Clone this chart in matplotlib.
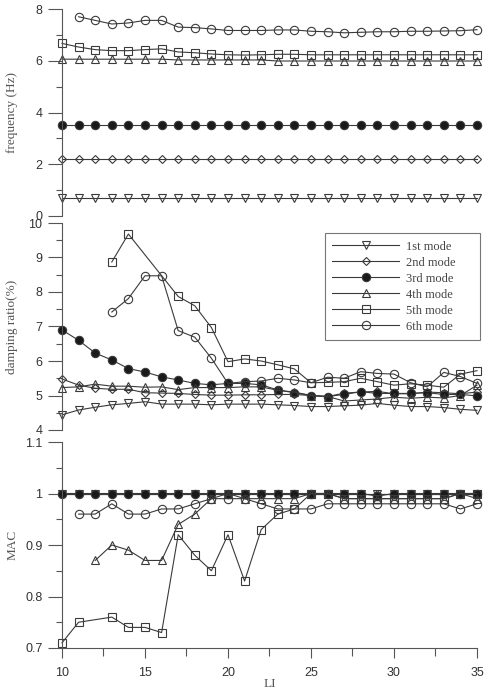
import numpy as np
import matplotlib
matplotlib.use("Agg")
import matplotlib.pyplot as plt
from matplotlib.ticker import MultipleLocator

nan = np.nan
LI = list(range(10, 36))

# ---- frequency (Hz) ----
freq_1 = [0.71] * 26
freq_2 = [2.19] * 26
freq_3 = [3.50] * 26
freq_4 = [6.06, 6.06, 6.06, 6.06, 6.06, 6.06, 6.06, 6.03, 6.03, 6.03, 6.03, 6.03, 6.03,
          5.99, 5.99, 5.99, 5.99, 5.99, 5.99, 5.99, 5.99, 5.99, 5.99, 5.99, 5.99, 5.99]
freq_5 = [6.67, 6.53, 6.43, 6.39, 6.39, 6.43, 6.46, 6.34, 6.31, 6.26, 6.23, 6.22, 6.23,
          6.25, 6.25, 6.23, 6.23, 6.23, 6.23, 6.23, 6.23, 6.23, 6.23, 6.23, 6.23, 6.23]
freq_6 = [nan, 7.70, 7.56, 7.42, 7.46, 7.56, 7.56, 7.30, 7.28, 7.23, 7.17, 7.17, 7.17,
          7.19, 7.19, 7.14, 7.12, 7.08, 7.10, 7.12, 7.12, 7.14, 7.14, 7.15, 7.16, 7.20]

# ---- damping ratio (%) ----
damp_1 = [4.44, 4.58, 4.66, 4.73, 4.77, 4.82, 4.75, 4.75, 4.75, 4.73, 4.75, 4.75, 4.75,
          4.73, 4.71, 4.68, 4.68, 4.70, 4.72, 4.77, 4.72, 4.68, 4.68, 4.65, 4.60, 4.57]
damp_2 = [5.48, 5.30, 5.21, 5.18, 5.18, 5.08, 5.07, 5.06, 5.03, 5.01, 5.01, 5.02, 5.02,
          5.03, 5.03, 5.00, 4.97, 5.07, 5.10, 5.12, 5.05, 5.05, 5.10, 5.08, 5.05, 5.10]
damp_3 = [6.90, 6.60, 6.23, 6.03, 5.78, 5.68, 5.54, 5.45, 5.35, 5.31, 5.35, 5.35, 5.31,
          5.16, 5.08, 5.00, 4.97, 5.03, 5.11, 5.06, 5.06, 5.06, 5.08, 5.03, 5.03, 4.99]
damp_4 = [5.23, 5.25, 5.33, 5.27, 5.27, 5.24, 5.25, 5.17, 5.23, 5.23, 5.23, 5.25, 5.25,
          5.15, 5.10, 5.00, 4.97, 4.84, 4.87, 4.90, 4.95, 4.92, 4.95, 4.93, 5.00, 5.30]
damp_5 = [nan, nan, nan, 8.87, 9.68, nan, nan, 7.87, 7.60, 6.97, 5.98, 6.06, 6.00,
          5.89, 5.77, 5.37, 5.38, 5.40, 5.50, 5.40, 5.30, 5.34, 5.30, 5.24, 5.62, 5.72]
damp_6 = [nan, nan, nan, 7.42, 7.81, 8.47, 8.47, 6.88, 6.69, 6.08, 5.35, 5.40, 5.42,
          5.50, 5.45, 5.37, 5.53, 5.50, 5.69, 5.64, 5.62, 5.37, 5.25, 5.67, 5.55, 5.35]

# ---- MAC ----
mac_1 = [1.00] * 26
mac_2 = [1.00] * 26
mac_3 = [1.00, 1.00, 1.00, 1.00, 1.00, 1.00, 1.00, 1.00, 1.00, 1.00, 1.00, 1.00, 1.00,
         1.00, 1.00, 1.00, 1.00, 1.00, 1.00, 0.995, 1.00, 1.00, 1.00, 1.00, 1.00, 1.00]
mac_4 = [nan, nan, 0.87, 0.90, 0.89, 0.87, 0.87, 0.94, 0.96, 0.99, 1.00, 0.99, 0.99,
         0.99, 0.99, 1.00, 1.00, 0.99, 0.99, 0.99, 0.99, 0.99, 0.99, 0.99, 1.00, 0.99]
mac_5 = [0.71, 0.75, nan, 0.76, 0.74, 0.74, 0.73, 0.92, 0.88, 0.85, 0.92, 0.83, 0.93,
         0.96, 0.97, 1.00, 1.00, 0.99, 0.99, 0.99, 0.99, 0.99, 0.99, 0.99, 1.00, 1.00]
mac_6 = [nan, 0.96, 0.96, 0.98, 0.96, 0.96, 0.97, 0.97, 0.98, 0.99, 0.99, 0.99, 0.98,
         0.97, 0.97, 0.97, 0.98, 0.98, 0.98, 0.98, 0.98, 0.98, 0.98, 0.98, 0.97, 0.98]

mode_labels = ["1st mode", "2nd mode", "3rd mode", "4th mode", "5th mode", "6th mode"]

styles = [
    dict(marker="v", ms=5.5, mfc="none"),
    dict(marker="D", ms=3.8, mfc="none"),
    dict(marker="o", ms=6.0, mfc="#1a1a1a"),
    dict(marker="^", ms=5.5, mfc="none"),
    dict(marker="s", ms=5.5, mfc="none"),
    dict(marker="o", ms=6.0, mfc="none"),
]

LC = "#3a3a3a"
SANS = ["Liberation Sans", "DejaVu Sans"]
SERIF = ["Liberation Serif", "DejaVu Serif"]

plt.rcParams["font.family"] = SANS

W, H = 485, 691
fig = plt.figure(figsize=(W / 100, H / 100), dpi=100)

def ax_at(top_px, bot_px):
    left, right = 62, 477
    return fig.add_axes([left / W, 1 - bot_px / H, (right - left) / W, (bot_px - top_px) / H])

ax1 = ax_at(9, 216)
ax2 = ax_at(223, 430)
ax3 = ax_at(442, 648)

def plot_series(ax, series):
    handles = []
    for vals, st, lab in zip(series, styles, mode_labels):
        xs = np.array(LI, dtype=float)
        ys = np.array(vals, dtype=float)
        m = ~np.isnan(ys)
        h, = ax.plot(xs[m], ys[m], color=LC, lw=0.8, mec=LC, mew=0.8,
                     clip_on=False, label=lab, **st)
        handles.append(h)
    return handles

plot_series(ax1, [freq_1, freq_2, freq_3, freq_4, freq_5, freq_6])
hs = plot_series(ax2, [damp_1, damp_2, damp_3, damp_4, damp_5, damp_6])
plot_series(ax3, [mac_1, mac_2, mac_3, mac_4, mac_5, mac_6])

for ax in (ax1, ax2, ax3):
    ax.set_xlim(10, 35)
    ax.spines["top"].set_visible(False)
    ax.spines["right"].set_visible(False)
    ax.spines["left"].set_color("#555555")
    ax.spines["left"].set_linewidth(0.8)
    ax.tick_params(axis="y", which="major", direction="out", length=10, width=0.8,
                   color="#555555", labelsize=9, labelcolor="#333333", pad=4)
    ax.tick_params(axis="y", which="minor", direction="out", length=4, width=0.8,
                   color="#555555")
    ax.patch.set_visible(False)

for ax in (ax1, ax2):
    ax.spines["bottom"].set_visible(False)
    ax.tick_params(axis="x", which="both", bottom=False, labelbottom=False)

ax1.set_ylim(0, 8)
ax1.yaxis.set_major_locator(MultipleLocator(2))
ax1.yaxis.set_minor_locator(MultipleLocator(1))

ax2.set_ylim(4, 10)
ax2.yaxis.set_major_locator(MultipleLocator(1))
ax2.yaxis.set_minor_locator(MultipleLocator(0.5))

ax3.set_ylim(0.7, 1.1)
ax3.yaxis.set_major_locator(MultipleLocator(0.1))
ax3.yaxis.set_minor_locator(MultipleLocator(0.05))
ax3.set_yticks([0.7, 0.8, 0.9, 1.0, 1.1])
ax3.set_yticklabels(["0.7", "0.8", "0.9", "1", "1.1"])
ax3.spines["bottom"].set_color("#555555")
ax3.spines["bottom"].set_linewidth(0.8)
ax3.xaxis.set_major_locator(MultipleLocator(5))
ax3.xaxis.set_minor_locator(MultipleLocator(2.5))
ax3.tick_params(axis="x", which="major", direction="out", length=7, width=0.8,
                color="#555555", labelsize=9, labelcolor="#333333", pad=7)
ax3.tick_params(axis="x", which="minor", direction="out", length=6, width=0.8,
                color="#555555")

lab_kw = dict(family=SERIF, fontsize=9.5, color="#555555")
ax1.set_ylabel("frequency (Hz)", **lab_kw)
ax2.set_ylabel("damping ratio(%)", **lab_kw)
ax3.set_ylabel("MAC", **lab_kw)
for ax in (ax1, ax2, ax3):
    ax.yaxis.set_label_coords(-0.105, 0.5)
ax3.set_xlabel("LI", **lab_kw)
ax3.xaxis.set_label_coords(0.5, -0.145)

leg = ax2.legend(handles=hs, loc="upper left", mode="expand",
                 bbox_to_anchor=(325 / W, 1 - 343 / H, 155 / W, 110 / H),
                 bbox_transform=fig.transFigure,
                 prop=dict(family=SERIF, size=9), frameon=True, fancybox=False,
                 edgecolor="#555555", handlelength=5.3, labelspacing=0.32,
                 borderaxespad=0, borderpad=0.6, handletextpad=0.6, numpoints=1)
leg.get_frame().set_linewidth(0.8)
for t in leg.get_texts():
    t.set_color("#444444")

fig.savefig("out.png", dpi=100)
